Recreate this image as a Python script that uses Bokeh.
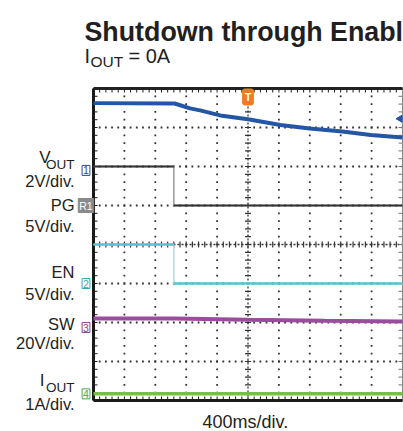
import numpy as np
from bokeh.plotting import figure
from bokeh.models import Range1d, Label
from bokeh.embed import file_html
from bokeh.resources import INLINE

# ---------------- data (read from the scope capture) ----------------
# time axis in ms, 400 ms/div, trigger at t = 0
t_vout = [-2000, -950, -750, -620, -360, 0, 420, 800, 1220, 1590, 2000]
vout = [3.45, 3.43, 3.18, 3.08, 2.82, 2.62, 2.33, 2.15, 2.00, 1.82, 1.69]   # V
t_pg = [-2000, -960, -960, 2000]
pg = [5.0, 5.0, 0.0, 0.0]                                                   # V
t_en = [-2000, -960, -960, 2000]
en = [5.0, 5.0, 0.0, 0.0]                                                   # V
t_sw = [-2000, -950, 0, 1000, 2000]
sw = [4.7, 4.6, 4.0, 3.5, 3.1]                                              # V
t_iout = [-2000, 0, 2000]
iout = [0.0, 0.0, 0.0]                                                      # A
trig_level = 2.65                                                           # V on CH1

title = "Shutdown through Enabl"
time_scale = "400ms/div."

# ---------------- layout helpers ----------------
FONT = "Liberation Sans"
TXT = "#231f20"
W, H = 403, 431
FL, FW, FT, FH = 93, 309, 88, 312   # scope screen box on the canvas (px)
X0, X1, Y0, Y1 = -2000, 2000, -4, 4  # scope screen in ms / divisions
MSPX = (X1 - X0) / FW
DPX = (Y1 - Y0) / FH


def t_of(xp):
    return X0 + (xp - FL) * MSPX


def d_of(yp):
    return Y1 - (yp - FT) * DPX


def chan_range(gnd_div, per_div):
    return Range1d((d_of(H) - gnd_div) * per_div, (d_of(0) - gnd_div) * per_div)


gnd = {"vout": 1.9, "pg": 1.0, "en": -1.0, "sw": -2.13, "iout": -3.83}

p = figure(width=W, height=H, x_range=Range1d(t_of(0), t_of(W)), y_range=Range1d(d_of(H), d_of(0)),
           output_backend="svg", toolbar_location=None, x_axis_type=None, y_axis_type=None,
           min_border_left=0, min_border_right=0, min_border_top=0, min_border_bottom=0)
p.outline_line_color = None
p.background_fill_color = "white"
p.border_fill_color = "white"

p.extra_y_ranges = {
    "vout": chan_range(gnd["vout"], 2),
    "pg": chan_range(gnd["pg"], 5),
    "en": chan_range(gnd["en"], 5),
    "sw": chan_range(gnd["sw"], 20),
    "iout": chan_range(gnd["iout"], 1),
}

# ---------------- graticule ----------------
xdiv = [X0 + 400 * i for i in range(1, 10) if i != 5]
ydiv = [Y0 + i for i in range(1, 8) if i != 4]
xminor = [float(v) for v in np.arange(X0, X1 + 1, 80)]
yminor = [float(v) for v in np.round(np.arange(Y0, Y1 + 0.001, 0.2), 3)]
GRID = "#333333"

gx, gy = [], []
for xv in xdiv:
    gx += [xv] * len(yminor)
    gy += yminor
for yv in ydiv:
    gx += xminor
    gy += [yv] * len(xminor)
p.scatter(x=gx, y=gy, marker="square", size=1.8, fill_color=GRID, line_color=None)

# centre axes with cross ticks
p.line([0, 0], [Y0, Y1], line_color=GRID, line_width=1.3, line_dash="2 2")
p.line([X0, X1], [0, 0], line_color=GRID, line_width=1.3, line_dash="2 2")
p.scatter(x=[0] * len(yminor), y=yminor, marker="dash", size=6, line_color=GRID, line_width=1.2)
p.scatter(x=xminor, y=[0] * len(xminor), marker="dash", angle=np.pi / 2, size=6,
          line_color=GRID, line_width=1.2)

# border ticks (inward, 4 px)
tx, ty = 4 * MSPX, 4 * DPX
p.segment(x0=[X0] * len(yminor), y0=yminor, x1=[X0 + tx] * len(yminor), y1=yminor,
          line_color="#1a1a1a", line_width=1)
p.segment(x0=[X1 - tx] * len(yminor), y0=yminor, x1=[X1] * len(yminor), y1=yminor,
          line_color="#777777", line_width=1)
p.segment(x0=xminor, y0=[Y0] * len(xminor), x1=xminor, y1=[Y0 + ty] * len(xminor),
          line_color="#1a1a1a", line_width=1)
p.segment(x0=xminor, y0=[Y1 - ty] * len(xminor), x1=xminor, y1=[Y1] * len(xminor),
          line_color="#1a1a1a", line_width=1)

# border
p.line([X1, X1], [Y0, Y1], line_color="#888888", line_width=1)
p.line([X0, X1], [Y1, Y1], line_color="#222222", line_width=3)
p.line([X0, X1], [Y0, Y0], line_color="#1a1a1a", line_width=3)
p.line([X0, X0], [Y0, Y1], line_color="#1a1a1a", line_width=3)

# ---------------- traces ----------------
p.line(t_sw, sw, y_range_name="sw", line_color="#9b4c9d", line_width=4)
p.line(t_iout, iout, y_range_name="iout", line_color="#74c043", line_width=3.5)
p.line(t_en, en, y_range_name="en", line_color="#a6dfe6", line_width=1.5)
p.line(t_en[:2], en[:2], y_range_name="en", line_color="#5ac3cf", line_width=2.6)
p.line(t_en[2:], en[2:], y_range_name="en", line_color="#5ac3cf", line_width=2.6)
p.line(t_pg, pg, y_range_name="pg", line_color="#9a9a9a", line_width=1.5)
p.line(t_pg[:2], pg[:2], y_range_name="pg", line_color="#333333", line_width=1.8)
p.line(t_pg[2:], pg[2:], y_range_name="pg", line_color="#333333", line_width=1.8)
p.line(t_vout, vout, y_range_name="vout", line_color="#2456a6", line_width=4)
p.scatter(x=[X1 - 2.5 * MSPX], y=[trig_level], y_range_name="vout", marker="triangle",
          angle=np.pi / 2, size=7, fill_color="#2456a6", line_color="#2456a6")

# ---------------- texts ----------------


def lab(text, xp, yp, size, align="right", bold=False, color=TXT):
    p.add_layout(Label(x=t_of(xp), y=d_of(yp), text=text, text_align=align,
                       text_baseline="alphabetic", text_font=FONT, text_font_size=f"{size}px",
                       text_color=color, text_font_style="bold" if bold else "normal"))


lab(title, 84, 31, 26.8, align="left", bold=True)
lab("I", 84, 55, 20, align="left")
lab("OUT", 90, 61, 15.5, align="left")
lab("= 0A", 128, 55, 20, align="left")

lab("V", 50, 157, 17)
lab("OUT", 74, 164, 13.5)
lab("2V/div.", 74, 180, 16.5)
lab("PG", 74, 204, 16.5)
lab("5V/div.", 74, 225, 16.5)
lab("EN", 74, 271, 16.5)
lab("5V/div.", 74, 293, 16.5)
lab("SW", 74, 323, 16.5)
lab("20V/div.", 74, 342, 16.5)
lab("I", 44, 380, 17)
lab("OUT", 74, 387, 13.5)
lab("1A/div.", 74, 403, 16.5)
lab(time_scale, 202, 421, 18, align="left")


def tag(text, yd, color, filled=False):
    p.add_layout(Label(x=t_of(85.5), y=yd, text=text, text_align="center", text_baseline="middle",
                       text_font=FONT, text_font_size="10.5px",
                       text_color="white" if filled else color,
                       background_fill_color=color if filled else "white",
                       border_line_color=color, border_line_width=1, padding=1))


tag("1", gnd["vout"], "#2b4a9c")
tag("R1", gnd["pg"], "#8a8a8a", filled=True)
tag("2", gnd["en"], "#3aaab2")
tag("3", gnd["sw"], "#8e3f90")
tag("4", gnd["iout"], "#4ca84a")

p.add_layout(Label(x=0, y=d_of(96.5), text="T", text_align="center", text_baseline="middle",
                   text_font=FONT, text_font_size="11px", text_font_style="bold",
                   text_color="white", background_fill_color="#f27a24",
                   border_line_color="#f27a24", padding=2, border_radius=2))

open("out.html", "w").write(file_html(p, INLINE))
